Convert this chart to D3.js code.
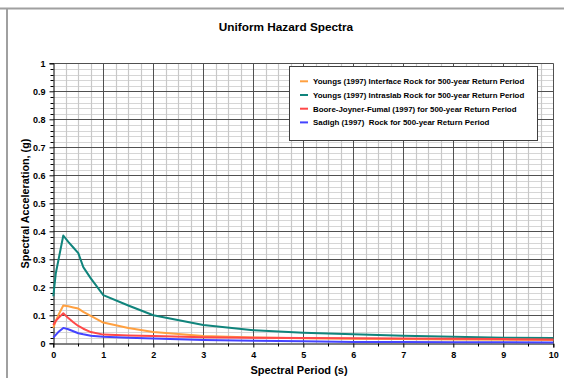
<!DOCTYPE html>
<html><head><meta charset="utf-8">
<script src="https://cdn.jsdelivr.net/npm/d3@7"></script>
<style>
body{margin:0;background:#fff;}
text{font-family:Arial,"Liberation Sans",sans-serif;font-weight:bold;fill:#000;white-space:pre;}
</style></head>
<body><svg id="c" width="564" height="378"></svg>
<script>
const periods = [0, 0.05, 0.1, 0.2, 0.3, 0.4, 0.5, 0.6, 0.75, 1, 1.5, 2, 3, 4, 5, 6, 7, 8, 9, 10];
const interfaceRock = [0.055, 0.08, 0.1, 0.135, 0.132, 0.128, 0.124, 0.112, 0.098, 0.074, 0.055, 0.040, 0.026, 0.021, 0.018, 0.016, 0.015, 0.014, 0.013, 0.012];
const intraslabRock = [0.168, 0.25, 0.295, 0.385, 0.362, 0.342, 0.322, 0.272, 0.232, 0.172, 0.135, 0.100, 0.065, 0.047, 0.038, 0.032, 0.027, 0.023, 0.020, 0.019];
const booreJoyner = [0.065, 0.08, 0.09, 0.107, 0.09, 0.075, 0.062, 0.052, 0.04, 0.031, 0.028, 0.026, 0.022, 0.02, 0.019, 0.018, 0.017, 0.016, 0.015, 0.014];
const sadigh = [0.02, 0.03, 0.04, 0.055, 0.05, 0.043, 0.036, 0.032, 0.027, 0.023, 0.02, 0.017, 0.012, 0.009, 0.007, 0.005, 0.005, 0.004, 0.004, 0.003];
const seriesNames = [
  "Youngs (1997) Interface Rock for 500-year Return Period",
  "Youngs (1997) Intraslab Rock for 500-year Return Period",
  "Boore-Joyner-Fumal (1997) for 500-year Return Period",
  "Sadigh (1997)  Rock for 500-year Return Period"
];
const seriesColors = ["#ffa040", "#10847c", "#ff4848", "#4444ff"];
const xTicks = [0,1,2,3,4,5,6,7,8,9,10];
const yTicks = [0,0.1,0.2,0.3,0.4,0.5,0.6,0.7,0.8,0.9,1];
const titleText = "Uniform Hazard Spectra";
const xTitle = "Spectral Period (s)";
const yTitle = "Spectral Acceleration, (g)";

const svg = d3.select("#c");
const L = 53.3, R = 553.3, T = 63.3, B = 343.3;
const x = d3.scaleLinear().domain([0,10]).range([L,R]);
const y = d3.scaleLinear().domain([0,1]).range([B,T]);

// outer frame lines
svg.append("line").attr("x1",0).attr("x2",564).attr("y1",8.5).attr("y2",8.5).attr("stroke","#a0a0a0").attr("stroke-width",2);
svg.append("line").attr("x1",7).attr("x2",7).attr("y1",8).attr("y2",378).attr("stroke","#a0a0a0").attr("stroke-width",2);

// grid
const g = svg.append("g");
const yMinor = d3.range(0, 1.0001, 0.02).filter(v => Math.abs(Math.round(v*10)-v*10) > 1e-6);
const xMinor = d3.range(0, 10.0001, 0.25).filter(v => Math.abs(Math.round(v)-v) > 1e-6);
g.selectAll(".ym").data(yMinor).join("line").attr("x1",L).attr("x2",R)
  .attr("y1",d=>Math.round(y(d))+0.5).attr("y2",d=>Math.round(y(d))+0.5).attr("stroke","#d6d6d6").attr("stroke-width",1.2);
g.selectAll(".xm").data(xMinor).join("line").attr("y1",T).attr("y2",B)
  .attr("x1",d=>Math.round(x(d))+0.5).attr("x2",d=>Math.round(x(d))+0.5).attr("stroke","#c8c8c8").attr("stroke-width",1.2);
g.selectAll(".yM").data(yTicks.slice(1)).join("line").attr("x1",L).attr("x2",R)
  .attr("y1",d=>Math.round(y(d))+0.5).attr("y2",d=>Math.round(y(d))+0.5).attr("stroke","#505050").attr("stroke-width",1);
g.selectAll(".xM").data(xTicks.slice(1)).join("line").attr("y1",T).attr("y2",B)
  .attr("x1",d=>Math.round(x(d))+0.5).attr("x2",d=>Math.round(x(d))+0.5).attr("stroke","#505050").attr("stroke-width",1);

// axes
const yAxis = d3.axisLeft(y).tickValues(yTicks).tickFormat(d3.format("")).tickSize(4).tickPadding(4);
const yAx = svg.append("g").attr("transform",`translate(${Math.round(L)+0.5},0)`).call(yAxis);
const xAxis = d3.axisBottom(x).tickValues(xTicks).tickFormat(d3.format("d")).tickSize(4).tickPadding(4);
const xAx = svg.append("g").attr("transform",`translate(0,${Math.round(B)+0.5})`).call(xAxis);
[yAx,xAx].forEach(a=>{
  a.select(".domain").attr("stroke","#000");
  a.selectAll(".tick line").attr("stroke","#000");
  a.selectAll("text").attr("font-size","9px").attr("font-weight","bold").attr("font-family","Arial, 'Liberation Sans', sans-serif");
});
// minor ticks
svg.append("g").selectAll("line").data(yMinor).join("line")
  .attr("x1",Math.round(L)+0.5).attr("x2",Math.round(L)-2.5)
  .attr("y1",d=>Math.round(y(d))+0.5).attr("y2",d=>Math.round(y(d))+0.5).attr("stroke","#000");
svg.append("g").selectAll("line").data(d3.range(0.5,10,1)).join("line")
  .attr("y1",Math.round(B)+0.5).attr("y2",Math.round(B)+3.5)
  .attr("x1",d=>Math.round(x(d))+0.5).attr("x2",d=>Math.round(x(d))+0.5).attr("stroke","#000");

// series
const allSeries = [interfaceRock, intraslabRock, booreJoyner, sadigh];
const line = d3.line().x((d,i)=>x(periods[i])).y(d=>y(d));
const drawOrder = [1,0,2,3];
drawOrder.forEach(k=>{
  svg.append("path").datum(allSeries[k]).attr("d",line).attr("fill","none")
    .attr("stroke",seriesColors[k]).attr("stroke-width",2).attr("stroke-linejoin","round");
});

// legend
const lg = svg.append("g");
lg.append("rect").attr("x",289.5).attr("y",66.5).attr("width",248).attr("height",74)
  .attr("fill","#fff").attr("stroke","#404040").attr("stroke-width",1);
seriesNames.forEach((n,i)=>{
  const cy = 81.3 + i*13.7;
  lg.append("line").attr("x1",300).attr("x2",308).attr("y1",cy).attr("y2",cy).attr("stroke",seriesColors[i]).attr("stroke-width",2);
  lg.append("text").attr("x",313).attr("y",cy+2.8).attr("font-size","7.9px").text(n);
});

// titles
svg.append("text").attr("x",286).attr("y",31).attr("text-anchor","middle").attr("font-size","11.8px").text(titleText);
svg.append("text").attr("x",299).attr("y",374).attr("text-anchor","middle").attr("font-size","11px").text(xTitle);
svg.append("text").attr("transform","translate(28.5,203.5) rotate(-90)").attr("text-anchor","middle").attr("font-size","10.8px").text(yTitle);
</script></body></html>
